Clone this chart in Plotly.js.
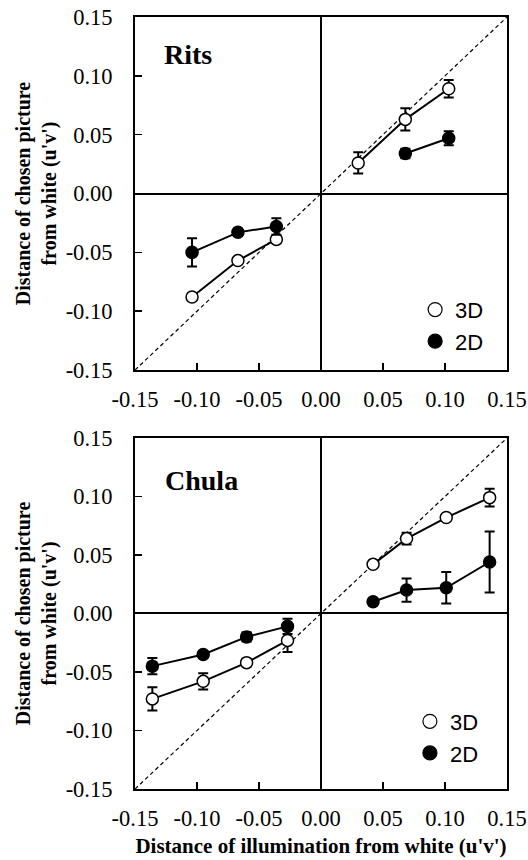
<!DOCTYPE html>
<html>
<head>
<meta charset="utf-8">
<script src="https://cdn.plot.ly/plotly-3.0.1.min.js"></script>
<style>html,body{margin:0;padding:0;background:#fff;}#chart{width:528px;height:860px;}</style>
</head>
<body>
<div id="chart"></div>
<script>
// Tick positions and labels
const tickVals = [-0.15, -0.10, -0.05, 0, 0.05, 0.10, 0.15];
const tickLabels = ['-0.15', '-0.10', '-0.05', '0.00', '0.05', '0.10', '0.15'];
const diagonal = [-0.15, 0.15];

// Rits panel
const ritsX3D = [-0.104, -0.067, -0.036, null, 0.030, 0.068, 0.103];
const rits3D = [-0.088, -0.057, -0.039, null, 0.026, 0.063, 0.089];
const rits3DErr = [0.003, 0.003, 0.003, null, 0.009, 0.0095, 0.0075];
const ritsX2D = [-0.104, -0.067, -0.036, null, 0.068, 0.103];
const rits2D = [-0.050, -0.033, -0.028, null, 0.034, 0.047];
const rits2DErr = [0.012, 0.003, 0.007, null, 0.004, 0.006];

// Chula panel
const chulaX = [-0.136, -0.095, -0.060, -0.027, null, 0.042, 0.069, 0.101, 0.136];
const chula3D = [-0.073, -0.058, -0.042, -0.023, null, 0.042, 0.064, 0.082, 0.099];
const chula3DErr = [0.010, 0.007, 0.003, 0.010, null, 0.003, 0.005, 0.003, 0.0075];
const chula2D = [-0.045, -0.035, -0.020, -0.011, null, 0.010, 0.020, 0.022, 0.044];
const chula2DErr = [0.007, 0.003, 0.004, 0.0065, null, 0.003, 0.010, 0.0135, 0.026];

const seriesNames = ['3D', '2D'];
const panelNames = ['Rits', 'Chula'];

const serif = 'Liberation Serif, Times New Roman, serif';
const sans = 'Liberation Sans, Arial, sans-serif';

function series(x, y, err, filled, xa, ya) {
  return {
    type: 'scatter', mode: 'lines+markers', x: x, y: y,
    xaxis: xa, yaxis: ya, showlegend: false, connectgaps: false,
    line: {color: '#000', width: 2},
    marker: {symbol: 'circle', size: 12, color: filled ? '#000' : '#fff', line: {color: '#000', width: 1.5}},
    error_y: {type: 'data', array: err, visible: true, color: '#000', thickness: 2, width: 5},
    hoverinfo: 'x+y'
  };
}
function diag(xa, ya) {
  return {type: 'scatter', mode: 'lines', x: diagonal, y: diagonal, xaxis: xa, yaxis: ya,
    showlegend: false, line: {color: '#000', width: 1.2, dash: '4px,3px'}, hoverinfo: 'skip'};
}
function legendItem(name, filled, legend) {
  return {type: 'scatter', mode: 'markers', x: [null], y: [null], name: name, legend: legend,
    showlegend: true, marker: {symbol: 'circle', size: 14, color: filled ? '#000' : '#fff', line: {color: '#000', width: 1.2}}};
}

const data = [
  diag('x', 'y'),
  series(ritsX3D, rits3D, rits3DErr, false, 'x', 'y'),
  series(ritsX2D, rits2D, rits2DErr, true, 'x', 'y'),
  diag('x2', 'y2'),
  series(chulaX, chula3D, chula3DErr, false, 'x2', 'y2'),
  series(chulaX, chula2D, chula2DErr, true, 'x2', 'y2'),
  legendItem(seriesNames[0], false, 'legend'),
  legendItem(seriesNames[1], true, 'legend'),
  legendItem(seriesNames[0], false, 'legend2'),
  legendItem(seriesNames[1], true, 'legend2')
];

function axis(extra) {
  return Object.assign({
    range: [-0.15, 0.15], tickvals: tickVals, ticktext: tickLabels,
    showgrid: false, zeroline: true, zerolinecolor: '#000', zerolinewidth: 2,
    showline: true, linecolor: '#000', linewidth: 2, mirror: true,
    ticks: 'inside', ticklen: 7, tickwidth: 1.5, tickcolor: '#000',
    tickfont: {family: serif, size: 22.5, color: '#000'}, fixedrange: true
  }, extra);
}

const yTitle = {text: "Distance of chosen picture<br>from white (u'v')", font: {family: serif, size: 20, color: '#000', weight: 700}, standoff: 4};

const legendBase = {
  font: {family: sans, size: 22, color: '#000'}, bgcolor: 'rgba(0,0,0,0)', borderwidth: 0,
  xanchor: 'left', yanchor: 'top', itemwidth: 30, tracegroupgap: 0
};

const layout = {
  width: 528, height: 860,
  margin: {l: 135, r: 21, t: 17, b: 71},
  paper_bgcolor: '#fff', plot_bgcolor: '#fff',
  font: {family: serif, color: '#000'},
  xaxis: axis({domain: [0, 1], anchor: 'y', ticklabelstandoff: 8}),
  yaxis: axis({domain: [0.5427, 1], anchor: 'x', title: yTitle, ticklabelstandoff: 16}),
  xaxis2: axis({domain: [0, 1], anchor: 'y2', ticklabelstandoff: 8,
    title: {text: "Distance of illumination from white (u'v')", font: {family: serif, size: 21, color: '#000', weight: 700}, standoff: 8}}),
  yaxis2: axis({domain: [0, 0.4547], anchor: 'x2', title: yTitle, ticklabelstandoff: 16}),
  legend: Object.assign({x: 0.753, y: 0.648}, legendBase),
  legend2: Object.assign({x: 0.739, y: 0.1146}, legendBase),
  annotations: [
    {text: panelNames[0], xref: 'paper', yref: 'paper', x: 0.0726, y: 0.951, xanchor: 'left', yanchor: 'middle',
     showarrow: false, font: {family: serif, size: 28, color: '#000', weight: 700}},
    {text: panelNames[1], xref: 'paper', yref: 'paper', x: 0.0753, y: 0.400, xanchor: 'left', yanchor: 'middle',
     showarrow: false, font: {family: serif, size: 28, color: '#000', weight: 700}}
  ]
};

Plotly.newPlot('chart', data, layout, {displayModeBar: false, staticPlot: true});
</script>
</body>
</html>
